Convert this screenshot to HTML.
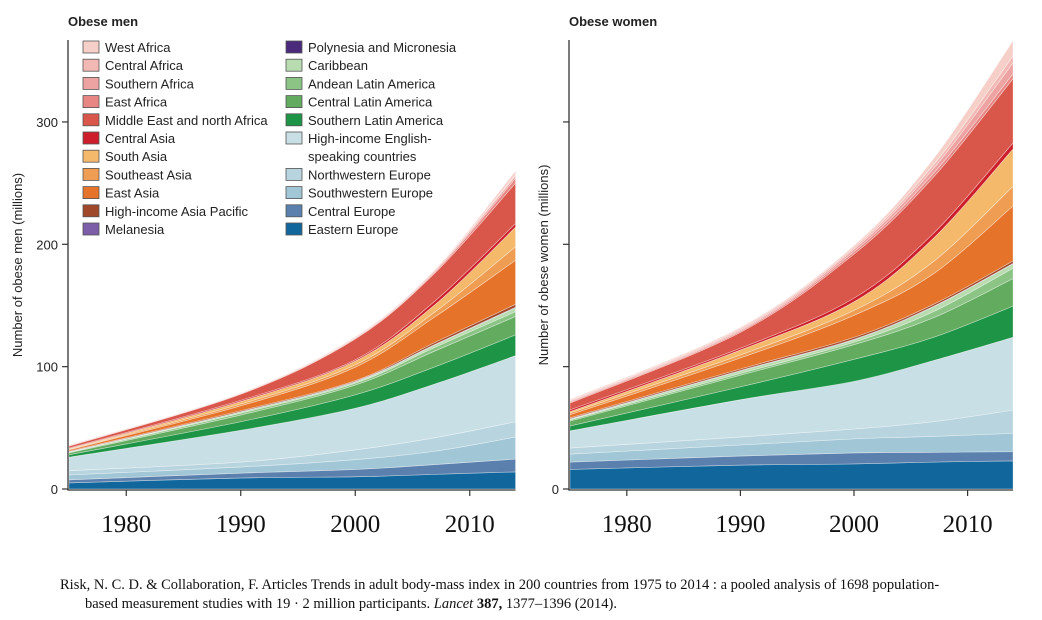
<!DOCTYPE html>
<html><head><meta charset="utf-8"><style>
body{margin:0;background:#fff;width:1042px;height:620px;overflow:hidden;font-family:"Liberation Sans",sans-serif}
svg{position:absolute;left:0;top:0}
.cap{position:absolute;font-family:"Liberation Serif",serif;font-size:14.5px;color:#111}
</style></head><body>
<svg id="chart" width="1042" height="620"></svg>
<div class="cap" style="left:60px;top:577px">Risk, N. C. D. &amp; Collaboration, F. Articles Trends in adult body-mass index in 200 countries from 1975 to 2014 : a pooled analysis of 1698 population-</div>
<div class="cap" style="left:85px;top:596px">based measurement studies with 19 · 2 million participants. <i>Lancet</i> <b>387,</b> 1377–1396 (2014).</div>
<script>
const years=[1975,1990,2000,2007,2014];
const regions=["Eastern Europe","Central Europe","Southwestern Europe","Northwestern Europe","High-income English-speaking countries","Southern Latin America","Central Latin America","Andean Latin America","Caribbean","Polynesia and Micronesia","Melanesia","High-income Asia Pacific","East Asia","Southeast Asia","South Asia","Central Asia","Middle East and north Africa","East Africa","Southern Africa","Central Africa","West Africa"];
const colors=["#11669c","#5b80ad","#a1c6d6","#b7d4df","#c9dfe6","#1e9447","#62ab5f","#8cc485","#b8dcb0","#4a2a7a","#7b5ea7","#a0482a","#e5742a","#ee9d52","#f4b96b","#cc1f2b","#d9574a","#e88684","#eda3a1","#f2b8b4","#f6d0c8"];
const men=[[5,9,10,12,14],[2.5,4,6,8,10.5],[4,5,8,11,18],[3.5,4,8,11,12.5],[11,26,34,44,54],[2,7,11,14,17],[1.5,5.5,8,13,15],[0.5,1.5,1.5,3,4],[0.3,1,1,2,3],[0.1,0.1,0.2,0.2,0.3],[0.1,0.1,0.2,0.2,0.3],[0.5,0.8,0.7,1.6,2.4],[1,4,11,21,36],[0.5,1.5,2,4,11],[0.5,2,3,6,16],[0.5,1,1,3,3],[1.5,5,17,23,33],[0.3,0.3,0.5,1,4],[0.3,0.3,0.5,1,2],[0.2,0.2,0.5,0.5,1],[0.2,0.2,0.5,0.5,3]];
const women=[[16,19.5,20.5,22,23],[6,7.5,9,8,7.5],[6.5,9,11.5,13,15],[5,6.5,8,12,19],[14,30.5,39,50,59.5],[4,10.5,18,19,25.5],[4,9.5,12,16,22.5],[1,1.5,2,5,8.5],[0.5,2,2,4,3.5],[0.2,0.2,0.2,0.2,0.2],[0.2,0.2,0.2,0.2,0.2],[0.8,1.2,1.6,1.6,2],[2.5,9,18,25,45],[1.5,2.5,4,10,16],[1,4,7,19,30.5],[1.5,1.5,3,4,5],[5.5,13,36,46,52.5],[0.8,1,2,3,4],[0.8,1,2,4,9],[0.6,1,1.5,3,5.5],[0.8,1,1.5,5,12.5]];
const yTicks=[0,100,200,300];
const xTicks=[1980,1990,2000,2010];
const NS="http://www.w3.org/2000/svg";
const svg=document.getElementById('chart');
function mk(t,a,p){const e=document.createElementNS(NS,t);for(const k in a)e.setAttribute(k,a[k]);(p||svg).appendChild(e);return e;}
function yS(v){return 489-v*1.2235;}
function spline(pts){let d="";for(let i=0;i<pts.length-1;i++){const p0=pts[Math.max(0,i-1)],p1=pts[i],p2=pts[i+1],p3=pts[Math.min(pts.length-1,i+2)];const c1=[p1[0]+(p2[0]-p0[0])/6,p1[1]+(p2[1]-p0[1])/6],c2=[p2[0]-(p3[0]-p1[0])/6,p2[1]-(p3[1]-p1[1])/6];d+=` C${c1[0]},${c1[1]} ${c2[0]},${c2[1]} ${p2[0]},${p2[1]}`;}return d;}
function panel(data,x0,name,title,ylab,showLabels,ytx){
  const xS=y=>x0+1+(y-1975)*(x0===68?11.45:11.36);
  const g=mk('g',{});
  
  
  let base=years.map(()=>0);
  data.forEach((ser,i)=>{
    const top=base.map((b,j)=>b+ser[j]);
    const tp=years.map((y,j)=>[xS(y),yS(top[j])]);
    const bp=years.map((y,j)=>[xS(y),yS(base[j])]).reverse();
    const d=`M${tp[0][0]},${tp[0][1]}`+spline(tp)+` L${bp[0][0]},${bp[0][1]}`+spline(bp)+"Z";
    const p=mk('path',{d:d,fill:colors[i],stroke:"rgba(255,255,255,0.45)","stroke-width":0.7},g);
    
    
    base=top;
  });
  const ax=mk('path',{d:`M${x0},40 V490 H${xS(2014)}`,fill:"none",stroke:"#333","stroke-width":1.3},g);
  
  
  yTicks.forEach(v=>{
    mk('line',{x1:x0-6,x2:x0,y1:yS(v),y2:yS(v),stroke:"#333","stroke-width":1.2},g);
    if(showLabels||v===0){const t=mk('text',{x:x0-10,y:yS(v)+5,"text-anchor":"end","font-size":13,fill:"#222"},g);t.textContent=v;
    
    }
  });
  xTicks.forEach(v=>{
    mk('line',{x1:xS(v),x2:xS(v),y1:490,y2:496,stroke:"#333","stroke-width":1.2},g);
    const t=mk('text',{x:xS(v),y:532,"text-anchor":"middle","font-size":25,"font-family":"Liberation Serif, serif",fill:"#111"},g);t.textContent=v;
    
    
  });
  const tt=mk('text',{x:x0,y:26,"font-size":13,"font-weight":"bold",fill:"#222"},g);tt.textContent=title;
  
  
  const yl=mk('text',{x:0,y:0,transform:`translate(${ytx},265) rotate(-90)`,"text-anchor":"middle","font-size":13,fill:"#222"},g);yl.textContent=ylab;
  
  
}
panel(men,68,'men-panel','Obese men','Number of obese men (millions)',true,22);
panel(women,569,'women-panel','Obese women','Number of obese women (millions)',false,548);
// legend
const leg=mk('g',{});


const col1=[20,19,18,17,16,15,14,13,12,11,10];
const col2=[9,8,7,6,5,4,3,2,1,0];
col1.forEach((ri,k)=>{const y=47+k*18.2;
  const r=mk('rect',{x:83,y:y-6,width:16,height:12,fill:colors[ri],stroke:"#555","stroke-width":0.8},leg);
  
  
  const t=mk('text',{x:105,y:y+5,"font-size":13,fill:"#222"},leg);t.textContent=regions[ri];
  
  });
let row=0;
col2.forEach(ri=>{const y=47+row*18.2;
  const r=mk('rect',{x:286,y:y-6,width:16,height:12,fill:colors[ri],stroke:"#555","stroke-width":0.8},leg);
  
  
  if(ri===4){const t=mk('text',{x:308,y:y+5,"font-size":13,fill:"#222"},leg);t.textContent="High-income English-";
    
    
    const t2=mk('text',{x:308,y:y+23.2,"font-size":13,fill:"#222"},leg);t2.textContent="speaking countries";
    
    row+=2;}
  else{const t=mk('text',{x:308,y:y+5,"font-size":13,fill:"#222"},leg);t.textContent=regions[ri];
    
    row++;}
});
</script>
</body></html>
